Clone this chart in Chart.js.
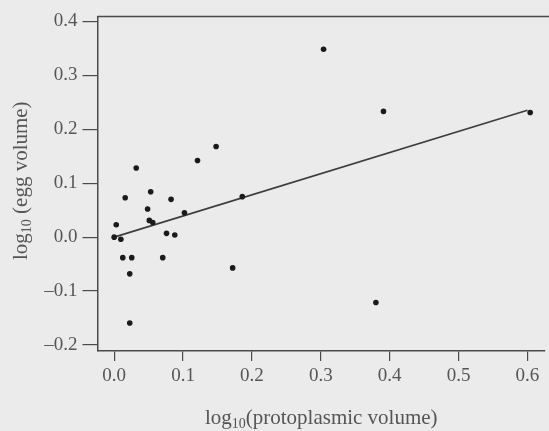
<!DOCTYPE html>
<html>
<head>
<meta charset="utf-8">
<script src="https://cdn.jsdelivr.net/npm/chart.js@4.4.0/dist/chart.umd.min.js"></script>
<style>
  html, body { margin: 0; padding: 0; background: #ebebeb; }
  #wrap { width: 549px; height: 431px; }
</style>
</head>
<body>
<div id="wrap"><canvas id="eggChart" width="549" height="431"></canvas></div>
<script>
// du lieu doc tu hinh
const protoVol = [0.0, 0.0097, 0.003, 0.016, 0.032, 0.0125, 0.0255, 0.0226, 0.0226, 0.0485, 0.053, 0.051, 0.056,
                  0.0705, 0.076, 0.088, 0.0826, 0.102, 0.121, 0.148, 0.172, 0.186, 0.304, 0.391, 0.380, 0.604];
const eggVol = [0.0, -0.004, 0.023, 0.073, 0.128, -0.038, -0.038, -0.068, -0.159, 0.052, 0.084, 0.031, 0.027,
                -0.038, 0.007, 0.004, 0.070, 0.045, 0.142, 0.168, -0.057, 0.075, 0.348, 0.233, -0.121, 0.231];
// duong hoi quy
const fitX = [0.0, 0.6];
const fitY = [0.0, 0.235];
const xTicks = [0, 0.1, 0.2, 0.3, 0.4, 0.5, 0.6];
const yTicks = [-0.2, -0.1, 0, 0.1, 0.2, 0.3, 0.4];

const inkColor = '#4a4a4a';
const fontFam = '"Liberation Serif", "Times New Roman", serif';

function fmt(v) {
    const s = Math.abs(v).toFixed(1);
    return v < -1e-9 ? '\u2013' + s : s;
}

// ve tieu de truc co chi so duoi "10"
function drawSubTitle(ctx, parts, x, y) {
    const big = '21px ' + fontFam, small = '14px ' + fontFam;
    let total = 0;
    parts.forEach(p => { ctx.font = p.sub ? small : big; total += ctx.measureText(p.t).width; });
    let cx = x - total / 2;
    parts.forEach(p => {
        ctx.font = p.sub ? small : big;
        ctx.fillText(p.t, cx, p.sub ? y + 6 : y);
        cx += ctx.measureText(p.t).width;
    });
}

const framePlugin = {
    id: 'framePlugin',
    afterDraw(chart) {
        const ctx = chart.ctx, a = chart.chartArea;
        ctx.save();
        // duong vien tren
        ctx.strokeStyle = inkColor;
        ctx.lineWidth = 1.5;
        ctx.beginPath();
        ctx.moveTo(a.left, a.top);
        ctx.lineTo(chart.width, a.top);
        ctx.stroke();

        ctx.fillStyle = '#555';
        ctx.textBaseline = 'middle';
        ctx.textAlign = 'left';
        // tieu de truc x
        drawSubTitle(ctx, [{t: 'log'}, {t: '10', sub: true}, {t: '(protoplasmic volume)'}],
            (a.left + a.right) / 2, 418);
        // tieu de truc y (xoay)
        ctx.translate(21, (a.top + a.bottom) / 2 - 3);
        ctx.rotate(-Math.PI / 2);
        drawSubTitle(ctx, [{t: 'log'}, {t: '10', sub: true}, {t: ' (egg volume)'}], 0, 0);
        ctx.restore();
    }
};

const ctx = document.getElementById('eggChart').getContext('2d');
new Chart(ctx, {
    type: 'scatter',
    data: {
        datasets: [
            {
                label: 'points',
                data: protoVol.map((x, i) => ({x: x, y: eggVol[i]})),
                backgroundColor: '#1a1a1a',
                borderWidth: 0,
                pointRadius: 2.8,
                order: 1
            },
            {
                type: 'line',
                label: 'fit',
                data: fitX.map((x, i) => ({x: x, y: fitY[i]})),
                borderColor: '#3c3c3c',
                borderWidth: 1.6,
                pointRadius: 0,
                fill: false,
                order: 2
            }
        ]
    },
    options: {
        responsive: false,
        animation: false,
        layout: { padding: { top: 15, right: 0, left: 0, bottom: 0 } },
        plugins: {
            legend: { display: false },
            tooltip: { enabled: false }
        },
        scales: {
            x: {
                type: 'linear',
                min: -0.0242,
                max: 0.6255,
                afterBuildTicks: s => { s.ticks = xTicks.map(v => ({value: v})); },
                afterFit: s => { s.height = 80; },
                grid: { drawOnChartArea: false, tickLength: 10, color: inkColor, lineWidth: 1.2 },
                border: { color: inkColor, width: 1.5 },
                ticks: {
                    padding: 4,
                    color: '#555',
                    font: { family: fontFam, size: 19 },
                    maxRotation: 0,
                    callback: v => fmt(v)
                }
            },
            y: {
                type: 'linear',
                min: -0.211,
                max: 0.409,
                afterBuildTicks: s => { s.ticks = yTicks.map(v => ({value: v})); },
                afterFit: s => { s.width = 97.5; },
                grid: { drawOnChartArea: false, tickLength: 15, color: inkColor, lineWidth: 1.2 },
                border: { color: inkColor, width: 1.5 },
                ticks: {
                    padding: 5,
                    color: '#555',
                    font: { family: fontFam, size: 19 },
                    callback: v => fmt(v)
                }
            }
        }
    },
    plugins: [framePlugin]
});
</script>
</body>
</html>
